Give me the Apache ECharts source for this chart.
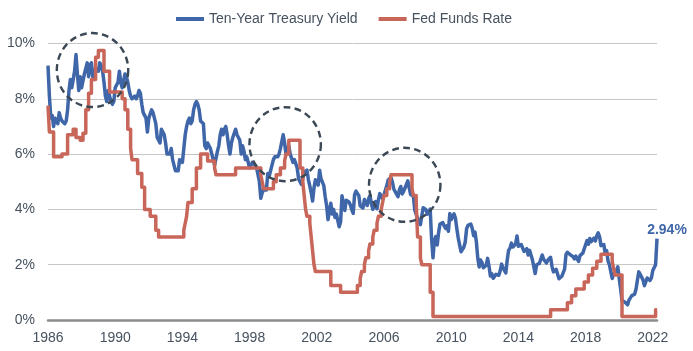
<!DOCTYPE html>
<html>
<head>
<meta charset="utf-8">
<script src="https://cdn.jsdelivr.net/npm/echarts@6/dist/echarts.min.js"></script>
<style>
  html, body { margin: 0; padding: 0; background: #fff; }
  #chart { width: 693px; height: 351px; }
</style>
</head>
<body>
<div id="chart"></div>
<script>
// month-end 10y yield, Jan 1986 .. Apr 2022 (index 0 = Jan 1986)
const startYear = 1986;
const treasuryYield = [
  9.2, 8.1, 7.3, 7.4, 7.0, 7.3, 7.3, 7.1, 7.5, 7.3, 7.2, 7.2,   // 1986
  7.1, 7.2, 7.6, 8.3, 8.7, 8.4, 8.7, 9.0, 9.6, 8.9, 8.3, 8.8,   // 1987
  8.4, 8.4, 8.9, 9.1, 9.3, 8.8, 9.2, 9.3, 8.8, 8.7, 9.1, 9.1,   // 1988
  9.0, 9.3, 9.2, 9.0, 8.6, 8.1, 7.9, 8.3, 8.3, 7.9, 7.8, 7.9,   // 1989
  8.4, 8.5, 8.6, 9.0, 8.6, 8.4, 8.4, 8.9, 8.8, 8.6, 8.3, 8.1,   // 1990
  8.0, 8.0, 8.1, 8.0, 8.1, 8.3, 8.2, 7.8, 7.5, 7.5, 7.3, 6.8,   // 1991
  7.3, 7.3, 7.6, 7.5, 7.3, 7.1, 6.6, 6.6, 6.4, 6.9, 6.9, 6.7,   // 1992
  6.4, 6.0, 6.0, 6.0, 6.2, 5.8, 5.8, 5.4, 5.4, 5.4, 5.8, 5.8,   // 1993
  5.7, 6.2, 6.7, 7.0, 7.2, 7.3, 7.1, 7.2, 7.6, 7.8, 7.9, 7.8,   // 1994
  7.6, 7.2, 7.2, 7.1, 6.3, 6.2, 6.4, 6.3, 6.2, 6.0, 5.8, 5.6,   // 1995
  5.6, 6.1, 6.3, 6.7, 6.9, 6.7, 6.9, 7.0, 6.7, 6.3, 6.0, 6.4,   // 1996
  6.6, 6.6, 6.9, 6.7, 6.7, 6.5, 6.0, 6.3, 6.1, 5.8, 5.9, 5.7,   // 1997
  5.5, 5.6, 5.7, 5.7, 5.6, 5.5, 5.5, 5.0, 4.4, 4.6, 4.7, 4.65,  // 1998
  4.7, 5.3, 5.2, 5.4, 5.6, 5.8, 5.9, 5.97, 5.9, 6.0, 6.2, 6.45, // 1999
  6.7, 6.4, 6.0, 6.2, 6.3, 6.0, 6.0, 5.7, 5.8, 5.8, 5.5, 5.1,   // 2000
  5.11, 4.9, 4.92, 5.35, 5.38, 5.42, 5.07, 4.85, 4.6, 4.3, 4.78, 5.07, // 2001
  5.07, 4.88, 5.42, 5.11, 5.08, 4.86, 4.46, 4.14, 3.63, 3.93, 4.22, 3.83, // 2002
  4.0, 3.71, 3.83, 3.89, 3.37, 3.54, 4.49, 4.47, 3.96, 4.33, 4.34, 4.27,  // 2003
  4.16, 3.99, 3.86, 4.53, 4.66, 4.62, 4.5, 4.13, 4.14, 4.05, 4.36, 4.24,  // 2004
  4.14, 4.39, 4.5, 4.21, 4.0, 3.94, 4.28, 4.02, 4.34, 4.57, 4.49, 4.39,   // 2005
  4.53, 4.55, 4.86, 5.07, 5.12, 5.15, 4.99, 4.74, 4.64, 4.61, 4.46, 4.71, // 2006
  4.83, 4.56, 4.65, 4.63, 4.9, 5.03, 4.78, 4.54, 4.59, 4.48, 3.97, 4.04,  // 2007
  3.67, 3.53, 3.45, 3.77, 4.06, 3.99, 3.99, 3.83, 3.85, 4.01, 2.93, 2.25, // 2008
  2.87, 3.02, 2.71, 3.16, 3.47, 3.53, 3.52, 3.4, 3.31, 3.41, 3.21, 3.85,  // 2009
  3.63, 3.61, 3.84, 3.69, 3.31, 2.97, 2.94, 2.47, 2.53, 2.63, 2.81, 3.3,  // 2010
  3.42, 3.42, 3.47, 3.32, 3.05, 3.18, 2.82, 2.23, 1.92, 2.17, 2.08, 1.89, // 2011
  1.83, 1.98, 2.23, 1.95, 1.59, 1.67, 1.51, 1.57, 1.65, 1.72, 1.62, 1.78, // 2012
  2.02, 1.89, 1.87, 1.7, 2.16, 2.52, 2.6, 2.78, 2.64, 2.57, 2.75, 3.04,   // 2013
  2.67, 2.66, 2.73, 2.67, 2.48, 2.53, 2.58, 2.35, 2.52, 2.35, 2.18, 2.17, // 2014
  1.68, 2.0, 1.94, 2.05, 2.12, 2.35, 2.2, 2.22, 2.06, 2.16, 2.21, 2.27,   // 2015
  1.94, 1.74, 1.78, 1.83, 1.84, 1.49, 1.46, 1.58, 1.6, 1.84, 2.37, 2.45,  // 2016
  2.45, 2.36, 2.4, 2.29, 2.21, 2.31, 2.3, 2.12, 2.33, 2.38, 2.42, 2.4,    // 2017
  2.72, 2.87, 2.74, 2.95, 2.83, 2.85, 2.96, 2.86, 3.05, 3.15, 3.01, 2.69, // 2018
  2.63, 2.73, 2.41, 2.51, 2.14, 2.0, 2.02, 1.5, 1.68, 1.69, 1.78, 1.92,   // 2019
  1.51, 1.13, 0.7, 0.64, 0.65, 0.66, 0.55, 0.72, 0.69, 0.88, 0.84, 0.93,  // 2020
  1.11, 1.44, 1.74, 1.65, 1.58, 1.45, 1.24, 1.3, 1.52, 1.55, 1.43, 1.52,  // 2021
  1.79, 1.83, 2.0, 2.94                                                  // 2022
];

// fed funds target: month index where each new level starts
const fedMonths = [
  0, 1, 4, 10, 14, 18, 20, 23, 25, 27, 29, 31, 34, 36, 40, 44,
  53, 55, 57, 59, 60, 64, 67, 69, 73, 77, 79,
  97, 98, 99, 100, 103, 106, 109, 114, 119, 120, 134,
  152, 153, 154, 161, 163, 166, 169, 170, 172,
  180, 182, 183, 184, 185, 187, 188, 189, 190, 191, 202, 209,
  221, 223, 224, 226, 227, 229, 230, 232, 233, 235, 236, 238, 239, 240, 242, 244, 245,
  260, 261, 263, 264, 266, 267, 273, 275,
  359, 371, 374, 377, 383, 386, 389, 392, 395, 403, 404, 405, 410, 434, 435
];
const fedRates = [
  7.75, 6.8, 5.9, 6.0, 6.7, 6.9, 6.6, 6.5, 6.75, 7.6, 8.2, 8.7, 9.5, 9.75, 9.0, 8.25,
  8.0, 7.6, 6.9, 6.2, 5.8, 5.3, 4.8, 4.0, 3.75, 3.25, 3.0,
  3.25, 3.5, 3.75, 4.25, 4.75, 5.5, 6.0, 5.75, 5.5, 5.25, 5.5,
  5.25, 5.0, 4.75, 5.0, 5.25, 5.5, 5.75, 6.0, 6.5,
  5.5, 5.0, 4.5, 4.0, 3.75, 3.5, 3.0, 2.5, 2.0, 1.75, 1.25, 1.0,
  1.25, 1.5, 1.75, 2.0, 2.25, 2.5, 2.75, 3.0, 3.25, 3.5, 3.75, 4.0, 4.25, 4.5, 4.75, 5.0, 5.25,
  4.75, 4.5, 4.25, 3.0, 2.25, 2.0, 1.0, 0.125,
  0.375, 0.625, 0.875, 1.125, 1.375, 1.625, 1.875, 2.125, 2.375, 2.125, 1.875, 1.625, 0.125, 0.375, 0.375
];

// dashed highlight rings: [month index, percent]
const highlightCenters = [[31.8, 9.04], [169.4, 6.36], [254.8, 4.89]];

const seriesNames = ['Ten-Year Treasury Yield', 'Fed Funds Rate'];
const lastLabel = '2.94%';

const blue = '#3f66a8';
const red = '#c8665a';
const textColor = '#46525f';

const lastIdx = treasuryYield.length - 1;
const yieldData = treasuryYield.map((v, i) => [i, v]);
const fedData = fedMonths.map((m, i) => [m, fedRates[i]]);

const chart = echarts.init(document.getElementById('chart'), null, { renderer: 'canvas' });

chart.setOption({
  animation: false,
  textStyle: { fontFamily: 'Liberation Sans' },
  legend: {
    top: 7,
    left: 171,
    itemGap: 21,
    itemWidth: 28,
    itemHeight: 4,
    icon: 'rect',
    textStyle: { color: textColor, fontSize: 14, fontFamily: 'Liberation Sans' },
    data: seriesNames
  },
  grid: { left: 48, right: 36, top: 43.5, bottom: 31 },
  xAxis: {
    type: 'value',
    min: 0,
    max: lastIdx,
    interval: 48,
    axisLine: { show: true, lineStyle: { color: '#8c8c8c', width: 2.5 } },
    axisTick: { show: false },
    splitLine: { show: false },
    axisLabel: {
      color: textColor, fontSize: 14, margin: 11,
      showMaxLabel: false,
      formatter: (v) => String(startYear + Math.round(v / 12))
    }
  },
  yAxis: {
    type: 'value',
    min: 0,
    max: 10,
    interval: 2,
    axisLine: { show: false },
    axisTick: { show: false },
    splitLine: { lineStyle: { color: '#c6c6c6', width: 1 } },
    axisLabel: { color: textColor, fontSize: 14, margin: 13, formatter: '{value}%' }
  },
  series: [
    {
      name: seriesNames[0],
      type: 'line',
      data: yieldData,
      symbol: 'none',
      color: blue,
      lineStyle: { width: 3.5, join: 'round' },
      z: 2,
      markPoint: {
        symbol: 'circle',
        symbolSize: 0,
        silent: true,
        data: [{ coord: [lastIdx, treasuryYield[lastIdx]], value: treasuryYield[lastIdx] }],
        label: {
          show: true, position: 'top', distance: 4, offset: [10, 2],
          formatter: lastLabel, color: blue, fontWeight: 'bold', fontSize: 14,
          fontFamily: 'Liberation Sans'
        }
      }
    },
    {
      name: seriesNames[1],
      type: 'line',
      data: fedData,
      step: 'end',
      symbol: 'none',
      color: red,
      lineStyle: { width: 3.5, join: 'round' },
      z: 3
    },
    {
      type: 'custom',
      data: highlightCenters,
      clip: false,
      silent: true,
      z: 5,
      renderItem: (params, api) => {
        const p = api.coord([api.value(0), api.value(1)]);
        return {
          type: 'circle',
          x: p[0],
          y: p[1],
          scaleX: 0.965,
          shape: { cx: 0, cy: 0, r: 37 },
          style: { fill: 'none', stroke: '#3b4856', lineWidth: 2.5, lineDash: [7, 4.5] }
        };
      }
    }
  ]
});

window.addEventListener('resize', () => chart.resize());
</script>
</body>
</html>
